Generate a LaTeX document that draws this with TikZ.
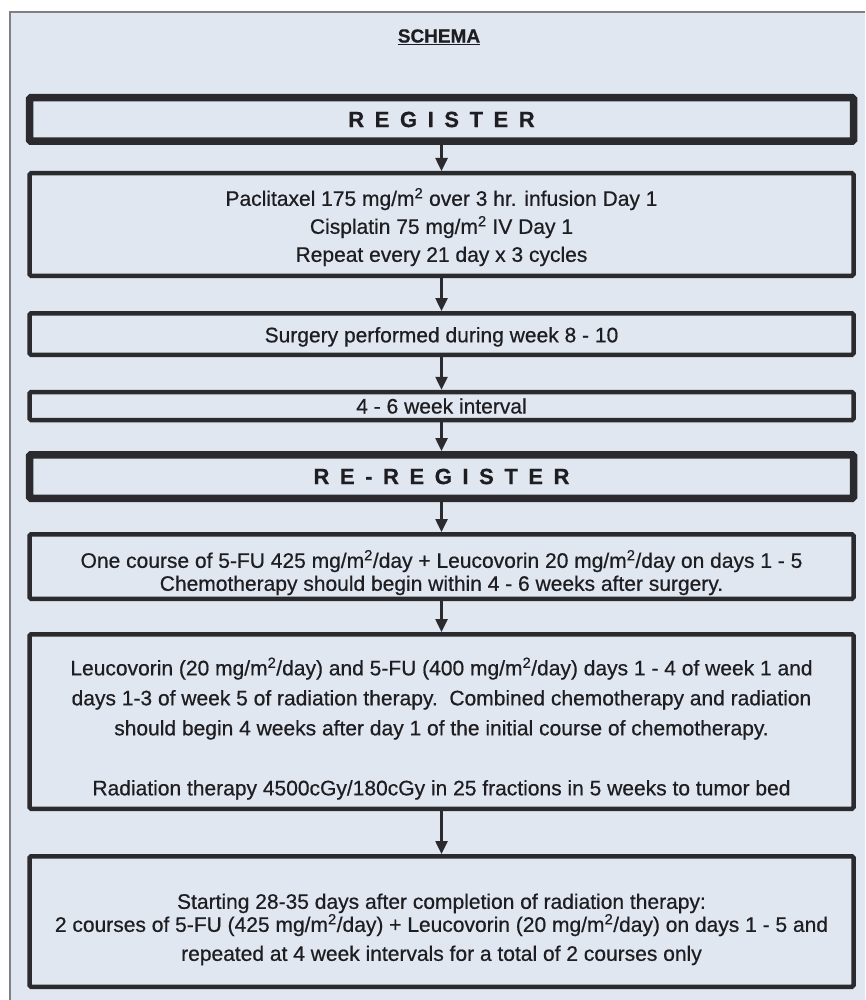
\documentclass[tikz,border=0pt]{standalone}
\usepackage{fontspec}
\setmainfont{Liberation Sans}[FakeBold=0.6]
\usetikzlibrary{arrows.meta}
\definecolor{schemabg}{HTML}{E1E7F0}
\definecolor{boxline}{HTML}{2B2B2F}
\definecolor{inktext}{HTML}{1E1E22}
\newcommand{\padtop}[1]{\rule{0pt}{#1}}

\begin{document}
\begin{tikzpicture}[x=1pt, y=-1pt,
    stepbox/.style = {draw=boxline, line width=4.5pt, rounded corners=1.5pt, minimum width=824pt, inner sep=0pt, align=center, text=inktext, font=\fontsize{21}{29}\selectfont},
    regbox/.style = {stepbox, line width=7.5pt, font=\fontsize{22}{26}\selectfont\bfseries\addfontfeature{LetterSpace=48}},
    flow/.style = {draw=boxline, line width=2.5pt, -{Triangle[width=12pt,length=13pt]}}]
    \useasboundingbox (0,0) rectangle (865,1000);
    \fill[white] (0,0) rectangle (865,1000);
    \fill[schemabg] (10,12) rectangle (865,1000);
    \draw[gray, line width=1.2pt] (10,1000) -- (10,12) -- (865,12);

    \node[text=inktext, font=\fontsize{19}{19}\selectfont\bfseries] (title) at (439,37) {\underline{SCHEMA}};

    \node[regbox, minimum height=43.5pt] (register) at (441.5,119.5) {REGISTER};
    \node[stepbox, minimum height=102.5pt, font=\fontsize{21}{28}\selectfont] (regimen) at (441.5,224.5) {\padtop{23pt}Paclitaxel 175 mg/m\textsuperscript{2} over 3 hr. infusion Day 1\\ Cisplatin 75 mg/m\textsuperscript{2} IV Day 1\\ Repeat every 21 day x 3 cycles};
    \node[stepbox, minimum height=41.5pt] (surgery) at (441.5,334) {\padtop{21pt}Surgery performed during week 8 - 10};
    \node[stepbox, minimum height=28pt] (interval) at (441.5,406) {4 - 6 week interval};
    \node[regbox, minimum height=43.5pt] (reregister) at (441.5,476.5) {RE-REGISTER};
    \node[stepbox, minimum height=64.5pt, font=\fontsize{21}{23}\selectfont] (course) at (441.5,566.5) {\padtop{30pt}One course of 5-FU 425 mg/m\textsuperscript{2}/day + Leucovorin 20 mg/m\textsuperscript{2}/day on days 1 - 5\\ Chemotherapy should begin within 4 - 6 weeks after surgery.};
    \node[stepbox, minimum height=174.5pt, font=\fontsize{21}{30}\selectfont] (chemorad) at (441.5,721.5) {\padtop{32pt}Leucovorin (20 mg/m\textsuperscript{2}/day) and 5-FU (400 mg/m\textsuperscript{2}/day) days 1 - 4 of week 1 and\\ days 1-3 of week 5 of radiation therapy.\ \ Combined chemotherapy and radiation\\ should begin 4 weeks after day 1 of the initial course of chemotherapy.\\[30pt] Radiation therapy 4500cGy/180cGy in 25 fractions in 5 weeks to tumor bed};
    \node[stepbox, minimum height=130.5pt] (followup) at (441.5,921.5) {\padtop{31pt}Starting 28-35 days after completion of radiation therapy:\\[-6pt] 2 courses of 5-FU (425 mg/m\textsuperscript{2}/day) + Leucovorin (20 mg/m\textsuperscript{2}/day) on days 1 - 5 and\\ repeated at 4 week intervals for a total of 2 courses only};

\draw[flow] (register) -- (regimen);
\draw[flow] (regimen) -- (surgery);
\draw[flow] (surgery) -- (interval);
\draw[flow] (interval) -- (reregister);
\draw[flow] (reregister) -- (course);
\draw[flow] (course) -- (chemorad);
\draw[flow] (chemorad) -- (followup);
\end{tikzpicture}
\end{document}
